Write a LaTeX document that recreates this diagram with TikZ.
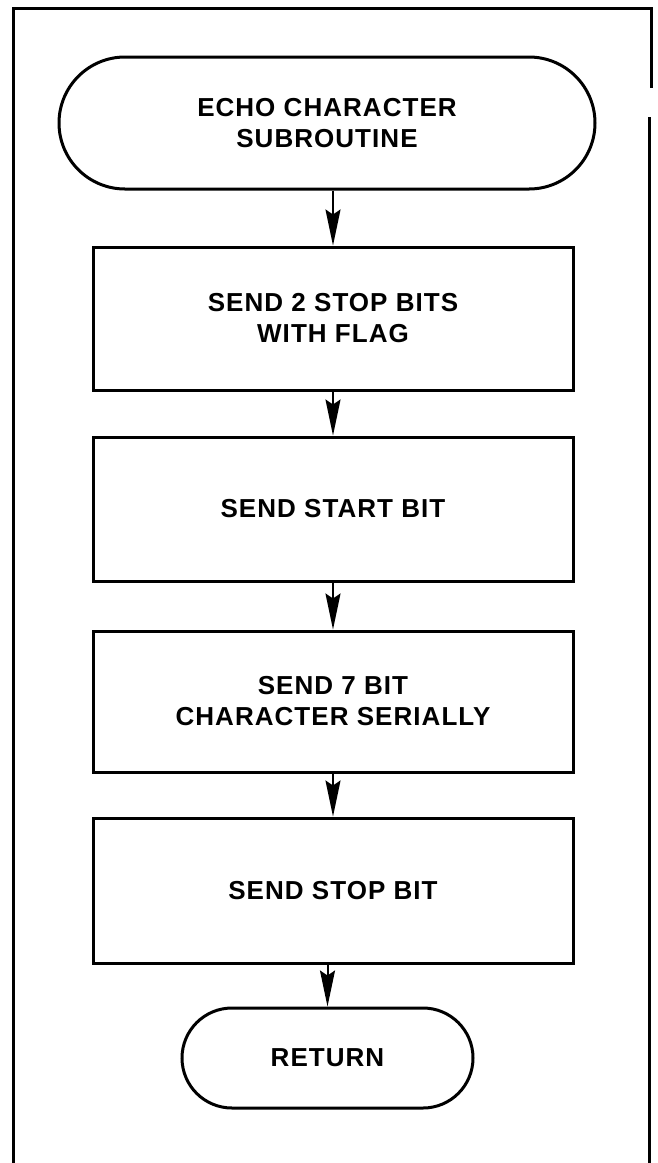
\documentclass[tikz,border=0pt]{standalone}
\usepackage{fontspec}
\setmainfont{Liberation Sans}[LetterSpace=4]
\usetikzlibrary{arrows.meta}
\begin{document}
\begin{tikzpicture}[x=1pt,y=-1pt,
  every node/.style={font=\fontsize{26}{31}\selectfont\bfseries, align=center},
  stepbox/.style={draw, line width=3pt, minimum width=480pt, inner sep=0pt},
  terminal/.style={draw, line width=3pt, inner sep=0pt},
  flow/.style={line width=2pt, -{Stealth[length=36pt,width=15pt,inset=5pt]}},
  frame/.style={line width=3pt, line cap=butt}]
  \useasboundingbox (0,0) rectangle (657,1163);

  % page frame, open at the bottom
  \draw[frame] (13,1163) -- (13,8) -- (651,8) -- (651,88);
  \draw[line width=2.2pt] (649.5,117) -- (649.5,1163);

  % flowchart
  \node[terminal, minimum width=536pt, minimum height=132pt, rounded corners=66pt]
    (start) at (327,123) {ECHO CHARACTER\\SUBROUTINE};
  \node[stepbox, minimum height=143pt] (b1) at (333,318.5) {SEND 2 STOP BITS\\WITH FLAG};
  \node[stepbox, minimum height=144pt] (b2) at (333,509) {SEND START BIT};
  \node[stepbox, minimum height=141pt] (b3) at (333,701.5) {SEND 7 BIT\\CHARACTER SERIALLY};
  \node[stepbox, minimum height=145pt] (b4) at (333,890.5) {SEND STOP BIT};
  \node[terminal, minimum width=291pt, minimum height=100pt, rounded corners=50pt]
    (ret) at (327.5,1058) {RETURN};

  \draw[flow] (start.south -| b1.north) -- (b1.north);
  \draw[flow] (b1) -- (b2);
  \draw[flow] (b2) -- (b3);
  \draw[flow] (b3) -- (b4);
  \draw[flow] (b4.south -| ret.north) -- (ret.north);
\end{tikzpicture}
\end{document}
